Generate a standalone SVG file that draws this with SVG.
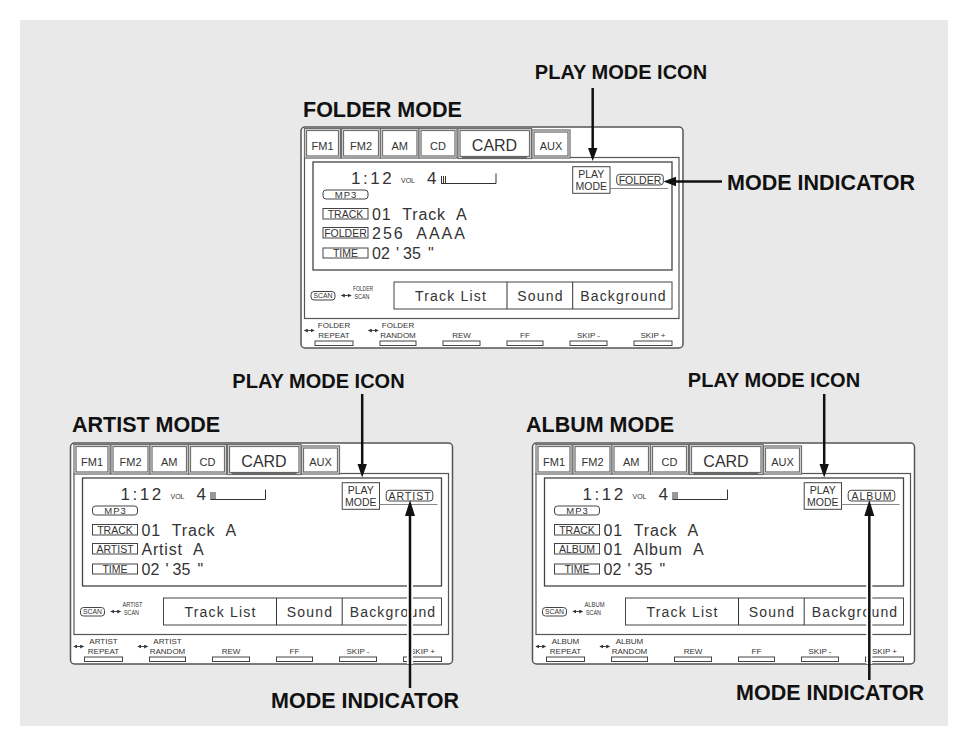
<svg xmlns="http://www.w3.org/2000/svg" width="968" height="746" viewBox="0 0 968 746">
<style>
.bg{fill:#e9e9e9}
.outer{fill:#fff;stroke:#555;stroke-width:1.5}
.frame{fill:none;stroke:#555;stroke-width:1.2}
.tab{fill:#fff;stroke:#666;stroke-width:3.2}
.tabi{fill:none;stroke:#ccc;stroke-width:1.2}
.disp{fill:none;stroke:#444;stroke-width:1.3}
.box{fill:#fff;stroke:#444;stroke-width:1}
.thin{fill:none;stroke:#333;stroke-width:1}
.gl{fill:none;stroke:#888;stroke-width:1.2}
text{font-family:"Liberation Sans",Arial,sans-serif;fill:#333}
.c{text-anchor:middle}
.s11{font-size:11px}
.s10{font-size:10.5px}
.s7{font-size:7px}
.s8{font-size:8px}
.big{font-size:17px;letter-spacing:2.5px}
.mid{font-size:16px;letter-spacing:.8px;word-spacing:6px}
.ls{letter-spacing:2px}
.tm{font-size:16px}
.btn{font-size:14px;letter-spacing:1.2px;text-anchor:middle}
.lbl{font-size:21.5px;font-weight:bold;fill:#111}
.pmi{font-size:20px}
.arr{stroke:#111;stroke-width:2.5;fill:none}
.halo{stroke:#fff;stroke-width:6;fill:none}
.head{fill:#111}
.dbl{stroke:#333;stroke-width:.9;fill:none;marker-start:url(#sm);marker-end:url(#sm)}
</style>
<defs>
<marker id="sm" viewBox="0 0 6 6" refX="5" refY="3" markerWidth="4" markerHeight="4" orient="auto-start-reverse" markerUnits="userSpaceOnUse"><path d="M0 0L6 3L0 6z" fill="#333"/></marker>
</defs>
<rect class="bg" x="20" y="20" width="928" height="706"/>

<g id="folder-screen">
<rect class="outer" x="301" y="127" width="382" height="221" rx="4"/>
<rect class="frame" x="304.5" y="157.5" width="374.5" height="161"/>
<rect class="tab" x="305.5" y="129.5" width="34" height="27.5"/><rect class="tabi" x="305.5" y="129.5" width="34" height="27.5"/>
<rect class="tab" x="342.5" y="129.5" width="37" height="27.5"/><rect class="tabi" x="342.5" y="129.5" width="37" height="27.5"/>
<rect class="tab" x="381.5" y="129.5" width="36.5" height="27.5"/><rect class="tabi" x="381.5" y="129.5" width="36.5" height="27.5"/>
<rect class="tab" x="420" y="129.5" width="36" height="27.5"/><rect class="tabi" x="420" y="129.5" width="36" height="27.5"/>
<rect class="tab" x="459" y="129.5" width="71.5" height="28"/><rect class="tabi" x="459" y="129.5" width="71.5" height="28"/>
<rect class="tab" x="533" y="131" width="36" height="26"/><rect class="tabi" x="533" y="131" width="36" height="26"/>
<line x1="462" y1="157.5" x2="527" y2="157.5" stroke="#666" stroke-width="2.5"/>
<text class="c s11" x="322.5" y="149.5">FM1</text>
<text class="c s11" x="361" y="149.5">FM2</text>
<text class="c s11" x="399.7" y="149.5">AM</text>
<text class="c s11" x="438" y="149.5">CD</text>
<text class="c" x="494.5" y="151" font-size="16">CARD</text>
<text class="c s11" x="551" y="149.5">AUX</text>
<rect class="disp" x="313" y="162" width="359" height="108"/>
<text class="big" x="351" y="183.5">1:12</text>
<text class="s7" x="401" y="183">VOL</text>
<text class="big" x="427" y="183.5">4</text>
<path class="thin" d="M441.5 176V183.5M443.5 176V183.5M445.5 176V183.5M441 183.5H496V173.5"/>
<rect class="box" x="323" y="190" width="45" height="9" rx="3"/><text class="c" font-size="9.5" letter-spacing="1" x="346" y="198">MP3</text>
<rect class="box" x="323" y="208.5" width="45" height="10.5"/><text class="c s10" x="345.5" y="217.7">TRACK</text>
<text class="mid" x="372" y="219.5">01 Track A</text>
<rect class="box" x="323" y="227.5" width="45" height="10.5"/><text class="c s10" x="345.5" y="236.7">FOLDER</text>
<text class="mid ls" x="372" y="238.5">256 AAAA</text>
<rect class="box" x="323" y="248" width="45" height="10"/><text class="c s10" x="345.5" y="256.8">TIME</text>
<text class="tm" y="259"><tspan x="372">02</tspan><tspan x="396">'</tspan><tspan x="403">35</tspan><tspan x="428">"</tspan></text>
<rect class="box" x="572.7" y="166.7" width="37.3" height="26.6" stroke-width="1.4"/>
<text class="c s10" x="591.3" y="178">PLAY</text><text class="c s10" x="591.3" y="190">MODE</text>
<path class="gl" d="M610 188.5H668"/>
<rect class="box" x="616.7" y="174.3" width="46.6" height="10.7" rx="3"/><text class="c s10" x="640" y="183.5">FOLDER</text>
<rect class="box" x="311" y="291.5" width="24" height="8.5" rx="3"/><text class="c" font-size="6.5" x="323" y="298.3" textLength="19" lengthAdjust="spacingAndGlyphs">SCAN</text>
<path class="dbl" d="M341.5 295.5H351"/>
<text class="s7" x="353" y="291" textLength="20" lengthAdjust="spacingAndGlyphs">FOLDER</text>
<text class="s7" x="354.5" y="299" textLength="15" lengthAdjust="spacingAndGlyphs">SCAN</text>
<rect class="box" x="394" y="282" width="278" height="27" stroke="#333" stroke-width="1.3"/>
<path class="thin" d="M507 282V309M572.7 282V309" stroke-width="1.3"/>
<text class="btn" x="451" y="300.5">Track List</text>
<text class="btn" x="540.5" y="300.5">Sound</text>
<text class="btn" x="623.5" y="300.5">Background</text>
<rect class="box" x="315" y="341" width="38" height="4.5"/>
<rect class="box" x="380" y="341" width="36" height="4.5"/>
<rect class="box" x="443" y="341" width="37" height="4.5"/>
<rect class="box" x="507" y="341" width="36" height="4.5"/>
<rect class="box" x="570" y="341" width="37" height="4.5"/>
<rect class="box" x="634" y="341" width="38" height="4.5"/>
<path class="dbl" d="M304.5 330.5H314"/><path class="dbl" d="M368.5 330.5H378"/>
<text class="c s8" x="334" y="328">FOLDER</text><text class="c s8" x="334" y="337.5">REPEAT</text>
<text class="c s8" x="398" y="328">FOLDER</text><text class="c s8" x="398" y="337.5">RANDOM</text>
<text class="c s8" x="461.5" y="337.5">REW</text>
<text class="c s8" x="525" y="337.5">FF</text>
<text class="c s8" x="588.5" y="337.5">SKIP -</text>
<text class="c s8" x="653" y="337.5">SKIP +</text>
</g>

<g id="artist-screen" transform="translate(-230.5,316)">
<rect class="outer" x="301" y="127" width="382" height="221" rx="4"/>
<rect class="frame" x="304.5" y="157.5" width="374.5" height="161"/>
<rect class="tab" x="305.5" y="129.5" width="34" height="27.5"/><rect class="tabi" x="305.5" y="129.5" width="34" height="27.5"/>
<rect class="tab" x="342.5" y="129.5" width="37" height="27.5"/><rect class="tabi" x="342.5" y="129.5" width="37" height="27.5"/>
<rect class="tab" x="381.5" y="129.5" width="36.5" height="27.5"/><rect class="tabi" x="381.5" y="129.5" width="36.5" height="27.5"/>
<rect class="tab" x="420" y="129.5" width="36" height="27.5"/><rect class="tabi" x="420" y="129.5" width="36" height="27.5"/>
<rect class="tab" x="459" y="129.5" width="71.5" height="28"/><rect class="tabi" x="459" y="129.5" width="71.5" height="28"/>
<rect class="tab" x="533" y="131" width="36" height="26"/><rect class="tabi" x="533" y="131" width="36" height="26"/>
<line x1="462" y1="157.5" x2="527" y2="157.5" stroke="#666" stroke-width="2.5"/>
<text class="c s11" x="322.5" y="149.5">FM1</text>
<text class="c s11" x="361" y="149.5">FM2</text>
<text class="c s11" x="399.7" y="149.5">AM</text>
<text class="c s11" x="438" y="149.5">CD</text>
<text class="c" x="494.5" y="151" font-size="16">CARD</text>
<text class="c s11" x="551" y="149.5">AUX</text>
<rect class="disp" x="313" y="162" width="359" height="108"/>
<text class="big" x="351" y="183.5">1:12</text>
<text class="s7" x="401" y="183">VOL</text>
<text class="big" x="427" y="183.5">4</text>
<path class="thin" d="M441.5 176V183.5M443.5 176V183.5M445.5 176V183.5M441 183.5H496V173.5"/>
<rect class="box" x="323" y="190" width="45" height="9" rx="3"/><text class="c" font-size="9.5" letter-spacing="1" x="346" y="198">MP3</text>
<rect class="box" x="323" y="208.5" width="45" height="10.5"/><text class="c s10" x="345.5" y="217.7">TRACK</text>
<text class="mid" x="372" y="219.5">01 Track A</text>
<rect class="box" x="323" y="227.5" width="45" height="10.5"/><text class="c s10" x="345.5" y="236.7">ARTIST</text>
<text class="mid" x="372" y="238.5">Artist A</text>
<rect class="box" x="323" y="248" width="45" height="10"/><text class="c s10" x="345.5" y="256.8">TIME</text>
<text class="tm" y="259"><tspan x="372">02</tspan><tspan x="396">'</tspan><tspan x="403">35</tspan><tspan x="428">"</tspan></text>
<rect class="box" x="572.7" y="166.7" width="37.3" height="26.6" stroke-width="1.4"/>
<text class="c s10" x="591.3" y="178">PLAY</text><text class="c s10" x="591.3" y="190">MODE</text>
<path class="gl" d="M610 188.5H668"/>
<rect class="box" x="616.7" y="174.3" width="46.6" height="10.7" rx="3"/><text class="c s10" x="640.5" y="183.5" letter-spacing="1">ARTIST</text>
<rect class="box" x="311" y="291.5" width="24" height="8.5" rx="3"/><text class="c" font-size="6.5" x="323" y="298.3" textLength="19" lengthAdjust="spacingAndGlyphs">SCAN</text>
<path class="dbl" d="M341.5 295.5H351"/>
<text class="s7" x="353" y="291" textLength="20" lengthAdjust="spacingAndGlyphs">ARTIST</text>
<text class="s7" x="354.5" y="299" textLength="15" lengthAdjust="spacingAndGlyphs">SCAN</text>
<rect class="box" x="394" y="282" width="278" height="27" stroke="#333" stroke-width="1.3"/>
<path class="thin" d="M507 282V309M572.7 282V309" stroke-width="1.3"/>
<text class="btn" x="451" y="300.5">Track List</text>
<text class="btn" x="540.5" y="300.5">Sound</text>
<text class="btn" x="623.5" y="300.5">Background</text>
<rect class="box" x="315" y="341" width="38" height="4.5"/>
<rect class="box" x="380" y="341" width="36" height="4.5"/>
<rect class="box" x="443" y="341" width="37" height="4.5"/>
<rect class="box" x="507" y="341" width="36" height="4.5"/>
<rect class="box" x="570" y="341" width="37" height="4.5"/>
<rect class="box" x="634" y="341" width="38" height="4.5"/>
<path class="dbl" d="M304.5 330.5H314"/><path class="dbl" d="M368.5 330.5H378"/>
<text class="c s8" x="334" y="328">ARTIST</text><text class="c s8" x="334" y="337.5">REPEAT</text>
<text class="c s8" x="398" y="328">ARTIST</text><text class="c s8" x="398" y="337.5">RANDOM</text>
<text class="c s8" x="461.5" y="337.5">REW</text>
<text class="c s8" x="525" y="337.5">FF</text>
<text class="c s8" x="588.5" y="337.5">SKIP -</text>
<text class="c s8" x="653" y="337.5">SKIP +</text>
</g>

<g id="album-screen" transform="translate(231.5,316)">
<rect class="outer" x="301" y="127" width="382" height="221" rx="4"/>
<rect class="frame" x="304.5" y="157.5" width="374.5" height="161"/>
<rect class="tab" x="305.5" y="129.5" width="34" height="27.5"/><rect class="tabi" x="305.5" y="129.5" width="34" height="27.5"/>
<rect class="tab" x="342.5" y="129.5" width="37" height="27.5"/><rect class="tabi" x="342.5" y="129.5" width="37" height="27.5"/>
<rect class="tab" x="381.5" y="129.5" width="36.5" height="27.5"/><rect class="tabi" x="381.5" y="129.5" width="36.5" height="27.5"/>
<rect class="tab" x="420" y="129.5" width="36" height="27.5"/><rect class="tabi" x="420" y="129.5" width="36" height="27.5"/>
<rect class="tab" x="459" y="129.5" width="71.5" height="28"/><rect class="tabi" x="459" y="129.5" width="71.5" height="28"/>
<rect class="tab" x="533" y="131" width="36" height="26"/><rect class="tabi" x="533" y="131" width="36" height="26"/>
<line x1="462" y1="157.5" x2="527" y2="157.5" stroke="#666" stroke-width="2.5"/>
<text class="c s11" x="322.5" y="149.5">FM1</text>
<text class="c s11" x="361" y="149.5">FM2</text>
<text class="c s11" x="399.7" y="149.5">AM</text>
<text class="c s11" x="438" y="149.5">CD</text>
<text class="c" x="494.5" y="151" font-size="16">CARD</text>
<text class="c s11" x="551" y="149.5">AUX</text>
<rect class="disp" x="313" y="162" width="359" height="108"/>
<text class="big" x="351" y="183.5">1:12</text>
<text class="s7" x="401" y="183">VOL</text>
<text class="big" x="427" y="183.5">4</text>
<path class="thin" d="M441.5 176V183.5M443.5 176V183.5M445.5 176V183.5M441 183.5H496V173.5"/>
<rect class="box" x="323" y="190" width="45" height="9" rx="3"/><text class="c" font-size="9.5" letter-spacing="1" x="346" y="198">MP3</text>
<rect class="box" x="323" y="208.5" width="45" height="10.5"/><text class="c s10" x="345.5" y="217.7">TRACK</text>
<text class="mid" x="372" y="219.5">01 Track A</text>
<rect class="box" x="323" y="227.5" width="45" height="10.5"/><text class="c s10" x="345.5" y="236.7">ALBUM</text>
<text class="mid" x="372" y="238.5">01 Album A</text>
<rect class="box" x="323" y="248" width="45" height="10"/><text class="c s10" x="345.5" y="256.8">TIME</text>
<text class="tm" y="259"><tspan x="372">02</tspan><tspan x="396">'</tspan><tspan x="403">35</tspan><tspan x="428">"</tspan></text>
<rect class="box" x="572.7" y="166.7" width="37.3" height="26.6" stroke-width="1.4"/>
<text class="c s10" x="591.3" y="178">PLAY</text><text class="c s10" x="591.3" y="190">MODE</text>
<path class="gl" d="M610 188.5H668"/>
<rect class="box" x="616.7" y="174.3" width="46.6" height="10.7" rx="3"/><text class="c s10" x="640.5" y="183.5" letter-spacing="1">ALBUM</text>
<rect class="box" x="311" y="291.5" width="24" height="8.5" rx="3"/><text class="c" font-size="6.5" x="323" y="298.3" textLength="19" lengthAdjust="spacingAndGlyphs">SCAN</text>
<path class="dbl" d="M341.5 295.5H351"/>
<text class="s7" x="353" y="291" textLength="20" lengthAdjust="spacingAndGlyphs">ALBUM</text>
<text class="s7" x="354.5" y="299" textLength="15" lengthAdjust="spacingAndGlyphs">SCAN</text>
<rect class="box" x="394" y="282" width="278" height="27" stroke="#333" stroke-width="1.3"/>
<path class="thin" d="M507 282V309M572.7 282V309" stroke-width="1.3"/>
<text class="btn" x="451" y="300.5">Track List</text>
<text class="btn" x="540.5" y="300.5">Sound</text>
<text class="btn" x="623.5" y="300.5">Background</text>
<rect class="box" x="315" y="341" width="38" height="4.5"/>
<rect class="box" x="380" y="341" width="36" height="4.5"/>
<rect class="box" x="443" y="341" width="37" height="4.5"/>
<rect class="box" x="507" y="341" width="36" height="4.5"/>
<rect class="box" x="570" y="341" width="37" height="4.5"/>
<rect class="box" x="634" y="341" width="38" height="4.5"/>
<path class="dbl" d="M304.5 330.5H314"/><path class="dbl" d="M368.5 330.5H378"/>
<text class="c s8" x="334" y="328">ALBUM</text><text class="c s8" x="334" y="337.5">REPEAT</text>
<text class="c s8" x="398" y="328">ALBUM</text><text class="c s8" x="398" y="337.5">RANDOM</text>
<text class="c s8" x="461.5" y="337.5">REW</text>
<text class="c s8" x="525" y="337.5">FF</text>
<text class="c s8" x="588.5" y="337.5">SKIP -</text>
<text class="c s8" x="653" y="337.5">SKIP +</text>
</g>

<g id="labels">
<text class="lbl pmi c" x="621" y="79">PLAY MODE ICON</text>
<text class="lbl" x="303" y="116.5">FOLDER MODE</text>
<text class="lbl" x="727" y="190">MODE INDICATOR</text>
<text class="lbl pmi c" x="318.5" y="388">PLAY MODE ICON</text>
<text class="lbl" x="72" y="431.5">ARTIST MODE</text>
<text class="lbl pmi c" x="774" y="387">PLAY MODE ICON</text>
<text class="lbl" x="526" y="431.5">ALBUM MODE</text>
<text class="lbl c" x="365" y="707.5">MODE INDICATOR</text>
<text class="lbl c" x="830" y="699.5">MODE INDICATOR</text>
</g>

<g id="connectors">
<path class="arr" d="M592.7 88V150"/><path class="head" d="M588 148H597.4L592.7 161z"/>
<path class="arr" d="M722 181.5H674"/><path class="head" d="M676 176.8V186.2L663.5 181.5z"/>
<path class="arr" d="M362.2 394V466"/><path class="head" d="M357.5 464H366.9L362.2 477.5z"/>
<path class="halo" d="M410 516V664"/>
<path class="arr" d="M410 514V688"/><path class="head" d="M405 516H415L410 500z"/>
<path class="arr" d="M824.2 394V466"/><path class="head" d="M819.5 464H828.9L824.2 477.5z"/>
<path class="halo" d="M869.3 516V664"/>
<path class="arr" d="M869.3 514V680"/><path class="head" d="M864.3 516H874.3L869.3 500z"/>
</g>
</svg>
